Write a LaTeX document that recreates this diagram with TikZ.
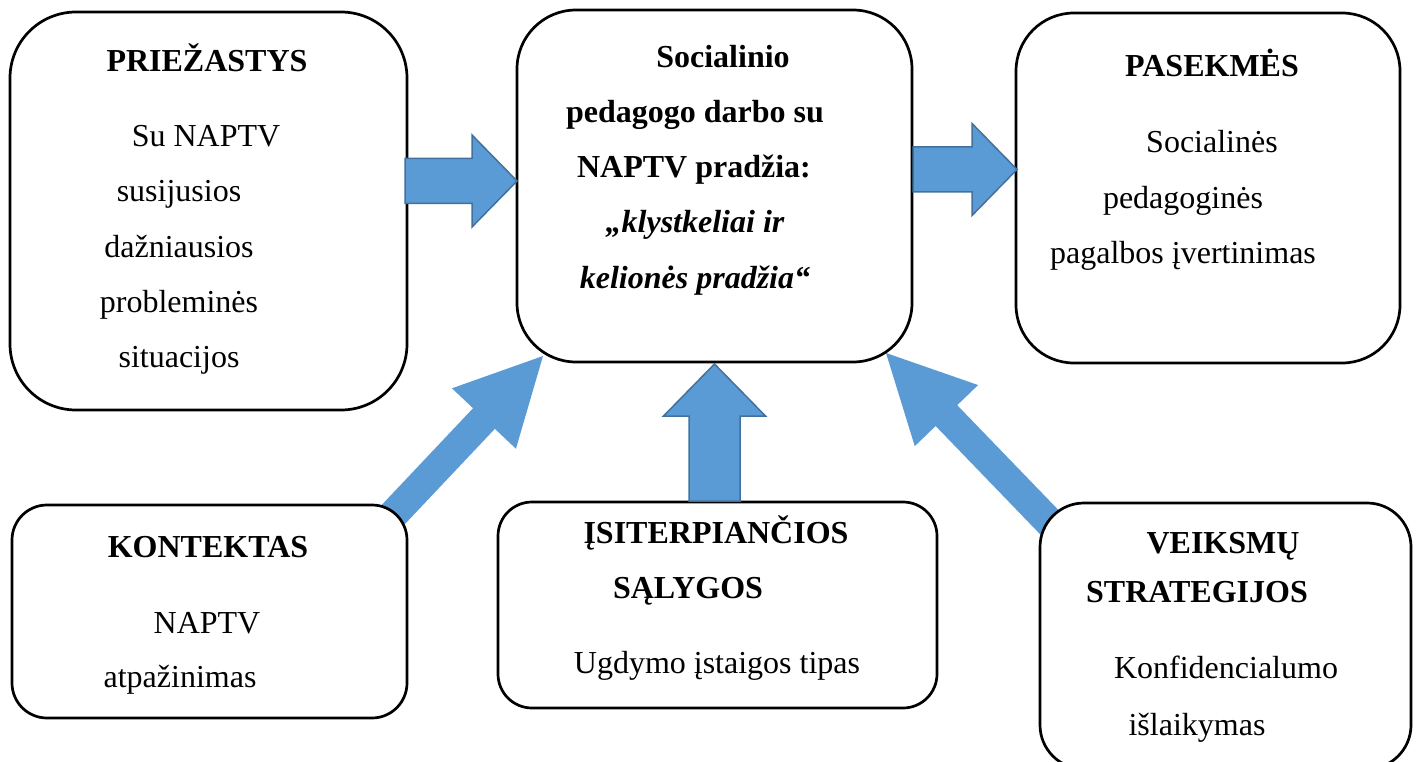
\documentclass[tikz,border=0pt]{standalone}
\usepackage{fontspec}
\setmainfont{Liberation Serif}
\usetikzlibrary{calc}
\definecolor{arrfill}{HTML}{5B9BD5}
\definecolor{arrline}{HTML}{41719C}
\newcommand\blockarrow[6]{% #1 style, #2 start, #3 tip, #4 shaft half, #5 head half, #6 head length
  \coordinate (bah) at ($(#3)!#6!(#2)$);
  \path[#1] ($(#2)!#4!90:(#3)$) -- ($(bah)!#4!90:(#3)$) -- ($(bah)!#5!90:(#3)$) -- (#3)
    -- ($(bah)!#5!-90:(#3)$) -- ($(bah)!#4!-90:(#3)$) -- ($(#2)!#4!-90:(#3)$) -- cycle;
}
\tikzset{
  box/.style={draw=black, fill=white, line width=2.7pt, inner sep=0pt, rectangle},
  harrow/.style={fill=arrfill, draw=arrline, line width=1.5pt, line join=miter},
  darrow/.style={fill=arrfill},
  txt/.style={anchor=base, inner sep=0pt, font=\fontsize{32}{32}\selectfont},
  ttl/.style={anchor=base, inner sep=0pt, font=\fontsize{32}{32}\selectfont\bfseries},
  ittl/.style={anchor=base, inner sep=0pt, font=\fontsize{32}{32}\selectfont\bfseries\itshape},
}
\begin{document}
\begin{tikzpicture}[x=1pt,y=-1pt]
\clip (0,0) rectangle (1416,762);
\fill[white] (0,0) rectangle (1416,762);

% diagonal arrows (under boxes)
\coordinate (dlS) at (390,518);
\coordinate (dlT) at (543,356);
\blockarrow{darrow}{dlS}{dlT}{15pt}{44pt}{86pt}
\coordinate (drS) at (1053,526);
\coordinate (drT) at (886,353);
\blockarrow{darrow}{drS}{drT}{15pt}{44pt}{87pt}

% boxes
\node[box, rounded corners=66pt, minimum width=397pt, minimum height=398pt] (cause) at (208.5,211) {};
\node[box, rounded corners=59pt, minimum width=395pt, minimum height=352pt] (core) at (714.5,186) {};
\node[box, rounded corners=58pt, minimum width=384pt, minimum height=350pt] (cons) at (1208,188) {};
\node[box, rounded corners=35pt, minimum width=395pt, minimum height=213pt] (ctx) at (209.5,611.5) {};
\node[box, rounded corners=34pt, minimum width=439pt, minimum height=206pt] (cond) at (717.5,605) {};
\node[box, rounded corners=44pt, minimum width=371pt, minimum height=266pt] (strat) at (1225.5,636) {};

% straight arrows
\coordinate (a1S) at (405,181);
\coordinate (a1T) at (517,181);
\blockarrow{harrow}{a1S}{a1T}{22.5pt}{46pt}{45pt}
\coordinate (a2S) at (913,169.5);
\coordinate (a2T) at (1017,169.5);
\blockarrow{harrow}{a2S}{a2T}{22.5pt}{46pt}{45pt}
\coordinate (a3S) at (714.5,501);
\coordinate (a3T) at (714.5,364);
\blockarrow{harrow}{a3S}{a3T}{25.5pt}{51pt}{52pt}

% texts: PRIEŽASTYS
\node[ttl] (c1) at (207,72) {PRIEŽASTYS};
\node[txt] (c2) at (206,147) {Su NAPTV};
\node[txt] (c3) at (179,202) {susijusios};
\node[txt] (c4) at (179,257) {dažniausios};
\node[txt] (c5) at (179,312) {probleminės};
\node[txt] (c6) at (179,367) {situacijos};

% center
\node[ttl] (k1) at (723,68) {Socialinio};
\node[ttl] (k2) at (695,123) {pedagogo darbo su};
\node[ttl] (k3) at (694,178) {NAPTV pradžia:};
\node[ittl] (k4) at (695,233) {„klystkeliai ir};
\node[ittl] (k5) at (695,288) {kelionės pradžia“};

% PASEKMĖS
\node[ttl] (p1) at (1212,77) {PASEKMĖS};
\node[txt] (p2) at (1212,153) {Socialinės};
\node[txt] (p3) at (1183,208) {pedagoginės};
\node[txt] (p4) at (1183,263) {pagalbos įvertinimas};

% KONTEKTAS
\node[ttl] (t1) at (208,557) {KONTEKTAS};
\node[txt] (t2) at (207,633) {NAPTV};
\node[txt] (t3) at (180,687) {atpažinimas};

% ĮSITERPIANČIOS
\node[ttl] (s1) at (716,543) {ĮSITERPIANČIOS};
\node[ttl] (s2) at (688,598) {SĄLYGOS};
\node[txt] (s3) at (717,673) {Ugdymo įstaigos tipas};

% VEIKSMŲ
\node[ttl] (v1) at (1223,553) {VEIKSMŲ};
\node[ttl] (v2) at (1197,602) {STRATEGIJOS};
\node[txt] (v3) at (1226,678) {Konfidencialumo};
\node[txt] (v4) at (1197,735) {išlaikymas};
\end{tikzpicture}
\end{document}
